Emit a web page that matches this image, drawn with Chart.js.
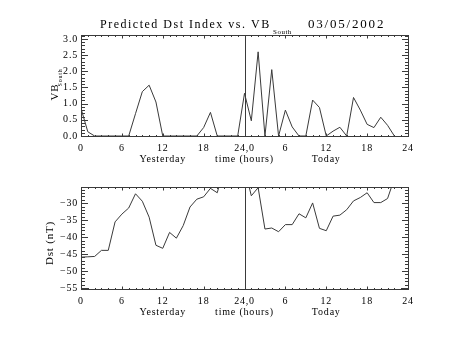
<!DOCTYPE html>
<html>
<head>
<meta charset="utf-8">
<script src="https://cdn.jsdelivr.net/npm/chart.js@4.4.1/dist/chart.umd.min.js"></script>
<style>
  html, body { margin: 0; padding: 0; background: #fff; }
  #wrap { position: relative; width: 454px; height: 341px; }
  canvas { position: absolute; left: 0; }
</style>
</head>
<body>
<div id="wrap">
  <canvas id="top" width="454" height="170" style="top:0"></canvas>
  <canvas id="bot" width="454" height="171" style="top:170px"></canvas>
</div>
<script>
// hours since start of yesterday (0..46)
const hours = [0,1,2,3,4,5,6,7,8,9,10,11,12,13,14,15,16,17,18,19,20,21,22,23,
  24,25,26,27,28,29,30,31,32,33,34,35,36,37,38,39,40,41,42,43,44,45,46];

// southward VB
const vbSouth = [0.85,0.13,0,0,0,0,0,0,0.69,1.37,1.57,1.05,0,0,0,0,0,0,0.26,0.73,0,0,0,0,
  1.32,0.47,2.6,0,2.05,0,0.8,0.28,0,0,1.11,0.88,0,0.15,0.27,0,1.19,0.8,0.36,0.26,0.58,0.33,0];

// predicted Dst (nT), lower panel (hours 21-24 and 46 run off the top)
const dst = [-45.9,-45.8,-45.7,-43.9,-43.9,-35.5,-33.2,-31.4,-27.2,-29.4,-34.1,-42.4,-43.3,-38.6,-40.3,-36.6,
  -31.1,-28.8,-28.1,-25.6,-26.9,-19.5,-19,-19,-19.5,-27.8,-25.4,-37.6,-37.3,-38.4,-36.3,-36.3,
  -33.1,-34.3,-29.9,-37.4,-38.1,-33.8,-33.5,-31.9,-29.3,-28.3,-26.9,-29.8,-29.8,-28.6,-22.7];

const xTickLabels = {0:'0', 6:'6', 12:'12', 18:'18', 24:'24,0', 30:'6', 36:'12', 42:'18', 48:'24'};
const dayLabels = [[12, 'Yesterday'], [24, 'time (hours)'], [36, 'Today']];

const FONT = '"Liberation Serif"';
const INK = '#3a3a3a';
const SPACING = '0.8px'; // the IDL vector font sets wider than Times

// IDL style box: inward ticks on all four sides, divider at hour 24, day captions
const idlFrame = {
  id: 'idlFrame',
  beforeDraw(chart) { chart.ctx.letterSpacing = SPACING; },
  afterDatasetsDraw(chart, args, o) {
    const { ctx, chartArea: a, scales: { x, y } } = chart;
    ctx.save();
    ctx.strokeStyle = INK;
    ctx.lineWidth = 1;
    const L = Math.round(a.left) + 0.5, R = Math.round(a.right) + 0.5;
    const T = Math.round(a.top) + 0.5, B = Math.round(a.bottom) + 0.5;
    ctx.strokeRect(L, T, R - L, B - T);
    ctx.beginPath();
    for (let h = 0; h <= 48; h++) {
      const px = Math.round(x.getPixelForValue(h)) + 0.5;
      const len = h % 6 === 0 ? 3 : 1.5;
      ctx.moveTo(px, B); ctx.lineTo(px, B - len);
      ctx.moveTo(px, T); ctx.lineTo(px, T + len);
    }
    const n = Math.round((o.yMax - o.yMin) / o.minor) + 1;
    const first = Math.ceil(o.yMin / o.minor);
    for (let k = first; k <= first + n; k++) {
      const v = k * o.minor;
      if (v < y.min || v > y.max) continue;
      const py = Math.round(y.getPixelForValue(v)) + 0.5;
      const len = k % o.per === 0 ? 6.5 : 3.5;
      ctx.moveTo(L, py); ctx.lineTo(L + len, py);
      ctx.moveTo(R, py); ctx.lineTo(R - len, py);
    }
    const vx = Math.round(x.getPixelForValue(24)) + 0.5;
    ctx.moveTo(vx, T); ctx.lineTo(vx, B);
    ctx.stroke();

    ctx.fillStyle = '#000';
    ctx.letterSpacing = SPACING;
    ctx.font = '10px ' + FONT;
    ctx.textAlign = 'center';
    ctx.textBaseline = 'middle';
    dayLabels.forEach(([h, s]) => ctx.fillText(s, x.getPixelForValue(h), a.bottom + o.dayDy));

    // rotated y title with optional subscript
    ctx.translate(o.ylx, (a.top + a.bottom) / 2 + o.yly);
    ctx.rotate(-Math.PI / 2);
    ctx.textAlign = 'left';
    ctx.font = '11px ' + FONT;
    ctx.fillText(o.ytitle, o.yStart, 0);
    if (o.ysub) { ctx.font = '6px ' + FONT; ctx.fillText(o.ysub, o.subStart, 5); }
    ctx.restore();
  }
};

const titlePlugin = {
  id: 'idlTitle',
  afterDraw(chart) {
    const ctx = chart.ctx;
    ctx.save();
    ctx.fillStyle = '#000';
    ctx.textBaseline = 'alphabetic';
    ctx.textAlign = 'left';
    ctx.letterSpacing = '1.5px';
    ctx.font = '12px ' + FONT;
    ctx.fillText('Predicted Dst Index vs. VB', 100, 28);
    ctx.letterSpacing = '0.5px';
    ctx.font = '7px ' + FONT;
    ctx.fillText('South', 273, 34);
    ctx.letterSpacing = '1.8px';
    ctx.font = '13px ' + FONT;
    ctx.fillText('03/05/2002', 308, 28);
    ctx.restore();
  }
};

function makeChart(id, values, yMin, yMax, step, minor, padTop, xHeight, frameOpts, extraPlugins, fmt) {
  return new Chart(document.getElementById(id), {
    type: 'line',
    data: {
      datasets: [{
        data: hours.map((h, i) => ({ x: h, y: values[i] })),
        borderColor: INK,
        borderWidth: 1,
        pointRadius: 0,
        tension: 0,
        fill: false
      }]
    },
    options: {
      responsive: false,
      animation: false,
      devicePixelRatio: 1,
      layout: { padding: { top: padTop, right: 46, left: 0, bottom: 0 } },
      plugins: {
        legend: { display: false },
        tooltip: { enabled: false },
        idlFrame: Object.assign({ yMin, yMax, minor, per: Math.round(step / minor) }, frameOpts)
      },
      scales: {
        x: {
          type: 'linear', min: 0, max: 48,
          grid: { display: false, drawTicks: false },
          border: { display: false },
          afterFit(s) { s.height = xHeight; },
          afterBuildTicks(s) { s.ticks = Object.keys(xTickLabels).map(v => ({ value: +v })); },
          ticks: {
            autoSkip: false, maxRotation: 0, padding: 6, color: '#000',
            font: { family: 'Liberation Serif', size: 10 },
            callback: v => xTickLabels[v]
          }
        },
        y: {
          min: yMin, max: yMax,
          grid: { display: false, drawTicks: false },
          border: { display: false },
          afterFit(s) { s.width = 81; },
          ticks: {
            stepSize: step, includeBounds: false, padding: 3, color: '#000',
            font: { family: 'Liberation Serif', size: 10 },
            callback: fmt
          }
        }
      }
    },
    plugins: [idlFrame].concat(extraPlugins)
  });
}

makeChart('top', vbSouth, 0, 3.12, 0.5, 0.1, 35, 34,
  { dayDy: 23, ylx: 55, yly: 0, ytitle: 'VB', ysub: 'South', yStart: -15, subStart: -1 },
  [titlePlugin], v => v.toFixed(1));

makeChart('bot', dst, -55.3, -25.2, 5, 1, 17, 52,
  { dayDy: 23, ylx: 50, yly: 4, ytitle: 'Dst (nT)', ysub: '', yStart: -23, subStart: 0 },
  [], v => (v < 0 ? '\u2212' : '') + Math.abs(Math.round(v)));
</script>
</body>
</html>
